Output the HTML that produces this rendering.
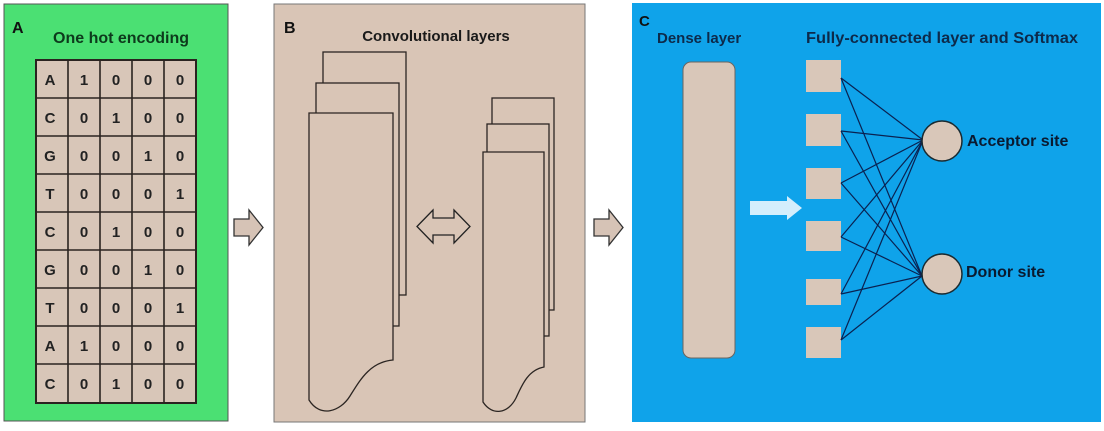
<!DOCTYPE html>
<html><head><meta charset="utf-8"><style>
body{margin:0;width:1104px;height:426px;background:#fff;overflow:hidden}
svg text{font-family:"Liberation Sans",sans-serif;font-weight:bold}
</style></head><body>
<svg width="1104" height="426" viewBox="0 0 1104 426">
<!-- Panel A -->
<rect x="4" y="4" width="224" height="417" fill="#4be073" stroke="#555" stroke-width="1"/>
<text x="12" y="33" font-size="16" fill="#111">A</text>
<text x="121" y="43" font-size="16" fill="#0d3a1c" text-anchor="middle">One hot encoding</text>
<g stroke="#2a2320" stroke-width="2" fill="#d8c6b8">
<rect x="36" y="60" width="160" height="343"/>
</g>
<g stroke="#2a2320" stroke-width="1.6">
<line x1="68" y1="60" x2="68" y2="403"/><line x1="100" y1="60" x2="100" y2="403"/>
<line x1="132" y1="60" x2="132" y2="403"/><line x1="164" y1="60" x2="164" y2="403"/>
<line x1="36" y1="98" x2="196" y2="98"/><line x1="36" y1="136" x2="196" y2="136"/>
<line x1="36" y1="174" x2="196" y2="174"/><line x1="36" y1="212" x2="196" y2="212"/>
<line x1="36" y1="250" x2="196" y2="250"/><line x1="36" y1="288" x2="196" y2="288"/>
<line x1="36" y1="326" x2="196" y2="326"/><line x1="36" y1="364" x2="196" y2="364"/>
</g>
<g font-size="15" fill="#222" text-anchor="middle">
<text x="50" y="85">A</text><text x="84" y="85">1</text><text x="116" y="85">0</text><text x="148" y="85">0</text><text x="180" y="85">0</text>
<text x="50" y="123">C</text><text x="84" y="123">0</text><text x="116" y="123">1</text><text x="148" y="123">0</text><text x="180" y="123">0</text>
<text x="50" y="161">G</text><text x="84" y="161">0</text><text x="116" y="161">0</text><text x="148" y="161">1</text><text x="180" y="161">0</text>
<text x="50" y="199">T</text><text x="84" y="199">0</text><text x="116" y="199">0</text><text x="148" y="199">0</text><text x="180" y="199">1</text>
<text x="50" y="237">C</text><text x="84" y="237">0</text><text x="116" y="237">1</text><text x="148" y="237">0</text><text x="180" y="237">0</text>
<text x="50" y="275">G</text><text x="84" y="275">0</text><text x="116" y="275">0</text><text x="148" y="275">1</text><text x="180" y="275">0</text>
<text x="50" y="313">T</text><text x="84" y="313">0</text><text x="116" y="313">0</text><text x="148" y="313">0</text><text x="180" y="313">1</text>
<text x="50" y="351">A</text><text x="84" y="351">1</text><text x="116" y="351">0</text><text x="148" y="351">0</text><text x="180" y="351">0</text>
<text x="50" y="389">C</text><text x="84" y="389">0</text><text x="116" y="389">1</text><text x="148" y="389">0</text><text x="180" y="389">0</text>
</g>
<!-- arrows -->
<path d="M234 219 H249 V210 L263 227.5 L249 245 V236 H234 Z" fill="#d6c3b6" stroke="#333" stroke-width="1.3"/>
<path d="M594 219 H609 V210 L623 227.5 L609 245 V236 H594 Z" fill="#d6c3b6" stroke="#333" stroke-width="1.3"/>
<!-- Panel B -->
<rect x="274" y="4" width="311" height="418" fill="#d9c5b6" stroke="#777" stroke-width="1"/>
<text x="284" y="33" font-size="16" fill="#111">B</text>
<text x="436" y="41" font-size="15" fill="#1a1a1a" text-anchor="middle">Convolutional layers</text>
<g fill="#d9c5b6" stroke="#2b2522" stroke-width="1.3">
<rect x="323" y="52" width="83" height="243"/>
<rect x="316" y="83" width="83" height="243"/>
<path d="M309 113 H393 V360 C370 362 360 380 350 396 C340 412 320 418 309 400 Z"/>
<rect x="492" y="98" width="62" height="212"/>
<rect x="487" y="124" width="62" height="212"/>
<path d="M483 152 H544 V367 C528 370 522 385 516 398 C508 414 492 416 483 402 Z"/>
</g>
<path d="M417 226.5 L433 210 V218 H454 V210 L470 226.5 L454 243 V235 H433 V243 Z" fill="#d9c5b6" stroke="#222" stroke-width="1.3"/>
<!-- Panel C -->
<rect x="632" y="3" width="469" height="419" fill="#0fa3ea"/>
<text x="639" y="26" font-size="15" fill="#111">C</text>
<text x="657" y="43" font-size="15" fill="#0d2a4a">Dense layer</text>
<text x="806" y="43" font-size="16" fill="#0d2a4a" textLength="272" lengthAdjust="spacingAndGlyphs">Fully-connected layer and Softmax</text>
<rect x="683" y="62" width="52" height="296" rx="8" fill="#d9c7b9" stroke="#6a6460" stroke-width="1"/>
<path d="M750 201 H787 V196 L802 208 L787 220 V215 H750 Z" fill="#d4eefc"/>
<g fill="#d9c7b9">
<rect x="806" y="60" width="35" height="32"/><rect x="806" y="114" width="35" height="32"/>
<rect x="806" y="168" width="35" height="31"/><rect x="806" y="221" width="35" height="30"/>
<rect x="806" y="279" width="35" height="26"/><rect x="806" y="327" width="35" height="31"/>
</g>
<g stroke="#0a2150" stroke-width="1.2">
<line x1="841" y1="78" x2="923" y2="140"/><line x1="841" y1="78" x2="922" y2="276"/>
<line x1="841" y1="131" x2="923" y2="140"/><line x1="841" y1="131" x2="922" y2="276"/>
<line x1="841" y1="183" x2="923" y2="140"/><line x1="841" y1="183" x2="922" y2="276"/>
<line x1="841" y1="237" x2="923" y2="140"/><line x1="841" y1="237" x2="922" y2="276"/>
<line x1="841" y1="294" x2="923" y2="140"/><line x1="841" y1="294" x2="922" y2="276"/>
<line x1="841" y1="340" x2="923" y2="140"/><line x1="841" y1="340" x2="922" y2="276"/>
</g>
<circle cx="942" cy="141" r="20" fill="#d9c7b9" stroke="#1a2a30" stroke-width="1.5"/>
<circle cx="942" cy="274" r="20" fill="#d9c7b9" stroke="#1a2a30" stroke-width="1.5"/>
<text x="967" y="146" font-size="16" fill="#0a1a30">Acceptor site</text>
<text x="966" y="277" font-size="16" fill="#0a1a30">Donor site</text>
</svg>
</body></html>
